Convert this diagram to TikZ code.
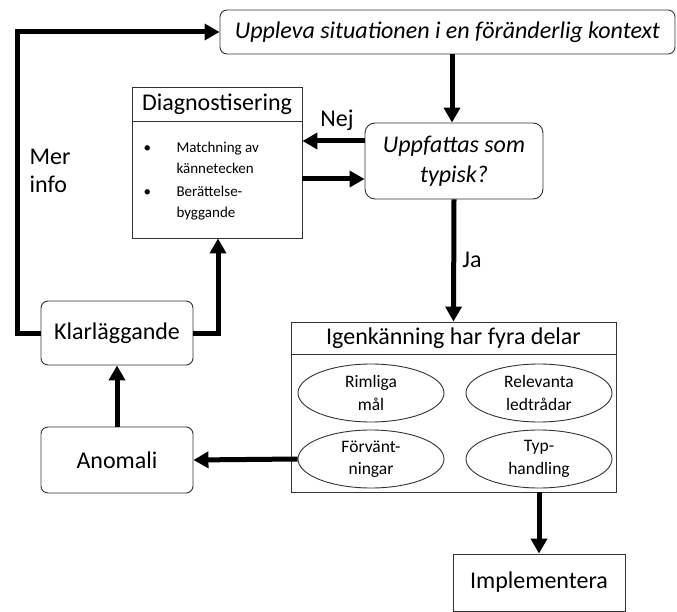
\documentclass[tikz,border=0pt]{standalone}
\usepackage{fontspec}
\setmainfont{Carlito}
\usetikzlibrary{arrows.meta,shapes.geometric,calc}
\begin{document}
\begin{tikzpicture}[x=1pt,y=-1pt,
  box/.style={draw=black!80,line width=0.9pt,inner sep=0pt,align=center},
  rbox/.style={box,rounded corners=7pt},
  ell/.style={draw=black!80,line width=0.9pt,ellipse,inner sep=0pt,minimum width=146pt,minimum height=58pt,align=center,font=\fontsize{17.5}{22.5}\selectfont},
  flow/.style={line width=5pt,-{Triangle[length=15pt,width=16pt]}},
  big/.style={font=\fontsize{24}{28}\selectfont},
  lbl/.style={big}]
\useasboundingbox (0,0) rectangle (677,612);
\fill[white] (0,0) rectangle (677,612);
% nodes
\node[rbox,minimum width=455pt,minimum height=44pt,font=\fontsize{24}{28}\selectfont\itshape] (top) at (447.5,32) {Uppleva situationen i en föränderlig kontext};
\node[rbox,rounded corners=10pt,minimum width=178pt,minimum height=76pt,font=\fontsize{24}{30}\selectfont\itshape] (upp) at (454,161) {Uppfattas som\\typisk?};
\node[box,big,minimum width=170pt,minimum height=34pt] (diaghead) at (217,104) {Diagnostisering};
\node[box,minimum width=170pt,minimum height=117pt] (diagbody) at (217,179.5) {};
\node[anchor=west,font=\fontsize{15}{21.5}\selectfont,align=left] (dtext) at (140,181) {\makebox[33pt][l]{•}Matchning av\\\makebox[33pt][l]{}kännetecken\\[1pt]\makebox[33pt][l]{•}Berättelse-\\\makebox[33pt][l]{}byggande};
\node[rbox,big,minimum width=152pt,minimum height=64pt] (klar) at (117,333) {Klarläggande};
\node[rbox,big,minimum width=152pt,minimum height=66pt] (anom) at (117,460) {Anomali};
\node[box,big,minimum width=325pt,minimum height=32pt] (igenhead) at (453.5,338) {Igenkänning har fyra delar};
\node[box,minimum width=325pt,minimum height=138pt] (igenbody) at (453.5,423) {};
\node[ell] (e1) at (371,393) {Rimliga\\mål};
\node[ell] (e2) at (539,393) {Relevanta\\ledtrådar};
\node[ell] (e3) at (371,459) {Förvänt-\\ningar};
\node[ell] (e4) at (539,459) {Typ-\\handling};
\node[box,big,minimum width=172pt,minimum height=57pt] (impl) at (539,582.5) {Implementera};
% labels
\node[lbl] (nej) at (337,120) {Nej};
\node[lbl] (ja) at (472,260) {Ja};
\node[lbl,align=left,anchor=west] (mer) at (26,171) {Mer\\info};
% connectors
\draw[flow] (top.south -| 452,0) -- (upp.north -| 452,0);
\draw[flow] (upp.west |- 0,141) -- (diagbody.east |- 0,141);
\draw[flow] (diagbody.east |- 0,179) -- (upp.west |- 0,179);
\draw[flow] (upp.south) -- (igenhead.north);
\draw[flow] (klar.west) -- (17,333) -- (17,32) -- (top.west);
\draw[flow] (klar.east) -- (218,333) -- (diagbody.south -| 218,0);
\draw[flow] (anom.north) -- (klar.south);
\draw[flow] (e3.west) -- (anom.east);
\draw[flow] (igenbody.south -| impl.north) -- (impl.north);
\end{tikzpicture}
\end{document}
